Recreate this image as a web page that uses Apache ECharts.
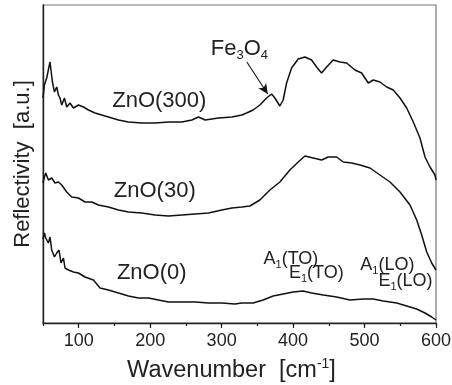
<!DOCTYPE html>
<html>
<head>
<meta charset="utf-8">
<script src="https://cdn.jsdelivr.net/npm/echarts@6/dist/echarts.min.js"></script>
<style>html,body{margin:0;padding:0;background:#fff}#c{width:452px;height:385px}</style>
</head>
<body>
<div id="c"></div>
<script>
// Wavenumber (cm^-1) and reflectivity (arbitrary units)
const wn300 = [50,52,55.2,59.8,63.2,66,69.2,71.6,73.8,76.2,80,83.2,87.8,92.6,99.6,106.6,113.6,122.8,132.2,141.6,155.6,169.6,188.2,206.9,225.6,244.3,258.3,267.6,276.9,295.7,314.3,328.3,334.9,344.1,353.5,362.9,369.9,374.5,381.5,386.1,390.9,397.9,407.2,416.5,425.9,432.9,439.9,446.9,456.2,465.6,474.9,486.6,495.9,505.2,512.2,521.6,531,540.2,549.6,559,568.2,577.6,584.6,591.6,598.6,600];
const r300  = [225,238,245,261,241,231,236,228,225,218,225,216,220,215,218,216,213,210,208,206,203,201,200,200,201,201,203,206,203,205,206,208,210,213,218,225,229,225,217,223,240,255,264,266,263,256,250,256,263,261,260,253,250,240,243,241,236,233,225,215,201,185,166,156,148,143];
const wn30 = [50,52,53.8,57.6,62.2,66.8,71.6,76.2,83.2,90.2,99.6,108.8,118.2,127.6,141.6,155.6,169.6,188.2,206.9,225.6,244.3,262.9,281.7,300.3,314.3,328.3,339.5,353.5,367.5,381.5,395.5,407.2,416.5,428.2,439.9,449.2,460.9,470.2,482,493.6,507.6,521.6,535.6,549.6,563.6,573,580,587,594,600];
const r30  = [140,146,150,143,145,140,141,138,131,126,125,121,121,118,116,113,111,110,108,107,108,109,110,113,115,116,117,123,133,141,153,161,167,165,163,166,166,161,160,158,155,148,141,131,118,103,88,71,60,53];
const wn0 = [50,52,53.8,57.6,59.8,62.2,66,69.2,72.4,75.2,78.6,80.8,85.6,92.6,99.6,108.8,120.6,129.8,141.6,155.6,169.6,183.6,197.6,211.6,225.6,244.3,262.9,281.7,300.3,318.9,328,344.1,358.1,372.1,386.1,400.1,414.2,425.9,442.2,460.9,479.6,498.2,512.2,526.2,545,559,573,584.6,594,600];
const r0  = [84,90,85,80,86,73,66,70,73,60,65,55,53,51,50,46,43,35,33,30,27,25,25,23,21,21,21,20,20,19,20,20,23,27,29,31,32,30,28,26,23,24,24,22,20,17,14,10,6,3];
const xMajorTicks = [100,200,300,400,500,600];
// annotations [wavenumber, reflectivity]
const labelPos300 = [212.8,222], labelPos30 = [206.4,132], labelPos0 = [202.2,50];
const fePos = [324.8,274], arrowFrom = [335.3,261], arrowTo = [364.5,229];
const a1toPos = [397,63.5], e1toPos = [432.6,49.5], a1loPos = [532,58], e1loPos = [557.3,41.5];

const FONT = 'Liberation Sans, Arial, sans-serif';
const TXT = '#222';
const zip = (a,b) => a.map((v,i)=>[v,b[i]]);
const sub = (fs) => ({fontSize: fs, fontFamily: FONT, color: TXT, verticalAlign: 'bottom', lineHeight: fs+2, padding: [0,0,0,0]});
const main = (fs) => ({fontSize: fs, fontFamily: FONT, color: TXT, verticalAlign: 'middle', lineHeight: fs+4});
function mp(coord, text, fs) {
  return {coord: coord, symbol: 'circle', symbolSize: 1, itemStyle: {color: 'rgba(0,0,0,0)'},
    label: {show: true, position: 'inside', formatter: text, fontFamily: FONT, fontSize: fs, color: TXT,
      rich: {a: main(fs), s: sub(Math.round(fs*0.6))}}};
}
const lineStyle = {color: '#111', width: 1.5};
function ser(x, y, marks, extra) {
  return Object.assign({type: 'line', data: zip(x, y), showSymbol: false, symbol: 'none', lineStyle: lineStyle,
    animation: false, silent: true,
    markPoint: {silent: true, animation: false, data: marks}}, extra || {});
}
const chart = echarts.init(document.getElementById('c'), null, {renderer: 'canvas'});
chart.setOption({
  backgroundColor: '#fff',
  animation: false,
  grid: {left: 43, right: 16, top: 5, bottom: 62, show: true, borderColor: '#777', borderWidth: 1.2,
    containLabel: false, outerBoundsMode: 'none'},
  xAxis: [{
    type: 'value', min: 50, max: 600, interval: 50,
    axisLine: {lineStyle: {color: '#222', width: 1.4}},
    axisTick: {show: true, length: 3, lineStyle: {color: '#222', width: 1.2}},
    axisLabel: {show: false}, splitLine: {show: false}
  }, {
    type: 'value', min: 50, max: 600, interval: 50, position: 'bottom',
    axisLine: {show: false},
    axisTick: {show: true, length: 5, customValues: xMajorTicks, lineStyle: {color: '#222', width: 1.2}},
    axisLabel: {show: true, customValues: xMajorTicks, fontFamily: FONT, fontSize: 18, color: TXT, margin: 9},
    splitLine: {show: false},
    name: '{a|Wavenumber  [cm}{p|-1}{a|]}', nameLocation: 'middle', nameGap: 34,
    nameTextStyle: {padding: [0,16,0,0], rich: {
      a: {fontFamily: FONT, fontSize: 23.5, color: TXT, verticalAlign: 'middle', lineHeight: 27},
      p: {fontFamily: FONT, fontSize: 14, color: TXT, verticalAlign: 'top', lineHeight: 16}
    }}
  }],
  yAxis: {
    type: 'value', min: 0, max: 318,
    axisLine: {show: true, lineStyle: {color: '#222', width: 1.4}},
    axisTick: {show: false}, axisLabel: {show: false}, splitLine: {show: false},
    name: 'Reflectivity  [a.u.]', nameLocation: 'middle', nameGap: 9,
    nameTextStyle: {fontFamily: FONT, fontSize: 22, color: TXT}
  },
  series: [
    ser(wn300, r300, [mp(labelPos300, '{a|ZnO(300)}', 22), mp(fePos, '{a|Fe}{s|3}{a|O}{s|4}', 22)], {
      markLine: {silent: true, animation: false, symbol: ['none','arrow'], symbolSize: [7,10],
        lineStyle: {color: '#111', width: 1.1, type: 'solid'}, label: {show: false},
        data: [[{coord: arrowFrom}, {coord: arrowTo}]]}
    }),
    ser(wn30, r30, [mp(labelPos30, '{a|ZnO(30)}', 22)]),
    ser(wn0, r0, [mp(labelPos0, '{a|ZnO(0)}', 22),
      mp(a1toPos, '{a|A}{s|1}{a|(TO)}', 18), mp(e1toPos, '{a|E}{s|1}{a|(TO)}', 18),
      mp(a1loPos, '{a|A}{s|1}{a|(LO)}', 18), mp(e1loPos, '{a|E}{s|1}{a|(LO)}', 18)])
  ]
});
</script>
</body>
</html>
